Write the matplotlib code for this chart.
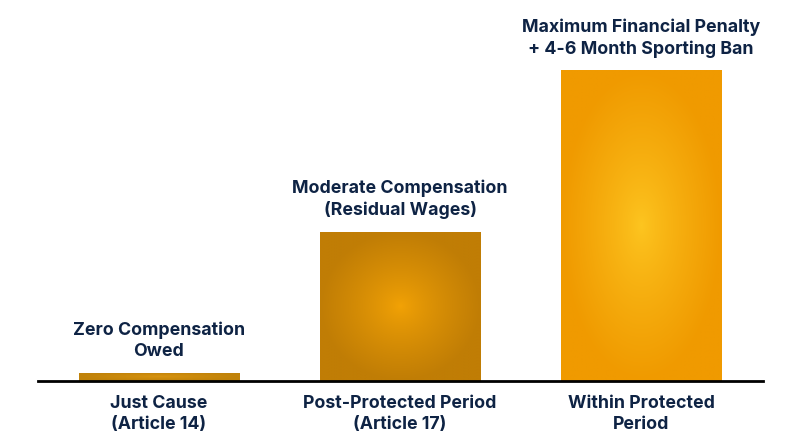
import numpy as np
import matplotlib.pyplot as plt
from matplotlib.colors import LinearSegmentedColormap
from matplotlib.patches import Rectangle

categories = ['Just Cause\n(Article 14)', 'Post-Protected Period\n(Article 17)', 'Within Protected\nPeriod']
values = [2.6, 48, 100]
bar_labels = ['Zero Compensation\nOwed', 'Moderate Compensation\n(Residual Wages)',
              'Maximum Financial Penalty\n+ 4-6 Month Sporting Ban']
centre_colors = ['#D89410', '#F2A205', '#FDC520']
edge_colors = ['#C0820A', '#C07D05', '#F09A00']

navy = '#0E2344'
plt.rcParams['font.family'] = ['Inter', 'DejaVu Sans']

fig = plt.figure(figsize=(8, 4.47), dpi=100)
ax = fig.add_axes([38 / 800, (447 - 381) / 447, 725 / 800, 373 / 447])

width = 0.664
x = np.arange(len(categories))

# radial gradient grid
gy, gx = np.mgrid[-1:1:200j, -1:1:200j]
r = np.clip(np.sqrt(gx ** 2 + gy ** 2), 0, 1) ** 0.8

for i, (xi, v) in enumerate(zip(x, values)):
    left = xi - width / 2
    cmap = LinearSegmentedColormap.from_list('g%d' % i, [centre_colors[i], edge_colors[i]])
    im = ax.imshow(r, cmap=cmap, extent=[left, left + width, 0, v], aspect='auto',
                   origin='lower', interpolation='bilinear', zorder=2)
    rect = Rectangle((left, 0), width, v, facecolor='none', edgecolor='none')
    ax.add_patch(rect)
    im.set_clip_path(rect)
    ax.annotate(bar_labels[i], (xi, v), xytext=(0, 9), textcoords='offset points',
                ha='center', va='bottom', fontsize=12.8, fontweight='bold',
                color=navy, linespacing=1.32)

ax.set_xlim(-0.502, 2.506)
ax.set_ylim(0, 120)
ax.set_xticks(x)
ax.set_xticklabels(categories, fontsize=12.8, fontweight='bold', color=navy, linespacing=1.3)
ax.tick_params(axis='x', length=0, pad=10)
ax.set_yticks([])
for s in ['top', 'right', 'left']:
    ax.spines[s].set_visible(False)
ax.spines['bottom'].set_linewidth(2)
ax.spines['bottom'].set_color('black')
ax.spines['bottom'].set_zorder(3)

fig.savefig('out.png', dpi=100)
